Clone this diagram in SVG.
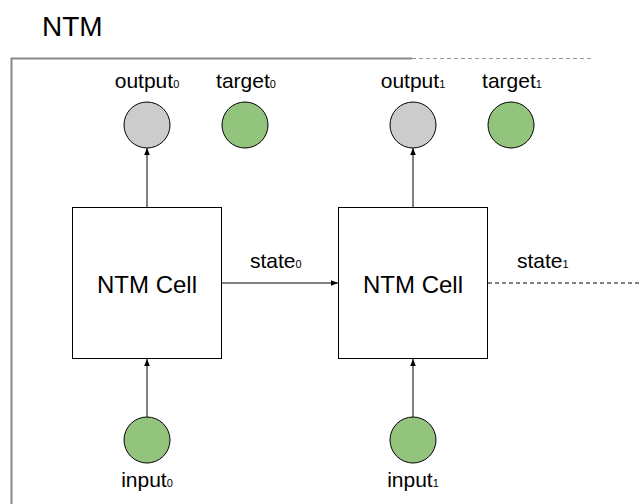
<svg xmlns="http://www.w3.org/2000/svg" width="641" height="504" viewBox="0 0 641 504">
<style>
text{font-family:"Liberation Sans",Arial,sans-serif;fill:#000}
.lbl{font-size:21px}
.sub{font-size:11px}
.cell{fill:#fff;stroke:#000;stroke-width:1}
.gray{fill:#cccccc;stroke:#000;stroke-width:1}
.green{fill:#93c47d;stroke:#000;stroke-width:1}
.edge{stroke:#000;stroke-width:1;fill:none}
</style>
<defs>
<marker id="ah" viewBox="0 0 10 10" refX="10" refY="5" markerWidth="7" markerHeight="7" orient="auto" markerUnits="userSpaceOnUse">
<path d="M0,1 L10,5 L0,9 z" fill="#000"/>
</marker>
</defs>
<rect width="641" height="504" fill="#fff"/>
<g id="frame">
<text x="42" y="36" font-size="28">NTM</text>
<path d="M11.5,504 V58.5 H412" stroke="#888" stroke-width="2" fill="none"/>
<path d="M412,58.5 H592" stroke="#999" stroke-width="1" stroke-dasharray="4,3" fill="none"/>
</g>
<g id="connectors">
<path class="edge" d="M147,207 V148" marker-end="url(#ah)"/>
<path class="edge" d="M413,207 V148" marker-end="url(#ah)"/>
<path class="edge" d="M147,418 V359" marker-end="url(#ah)"/>
<path class="edge" d="M413,418 V359" marker-end="url(#ah)"/>
<path class="edge" d="M222,283 H338" marker-end="url(#ah)"/>
<path class="edge" d="M488,283 H641" stroke-dasharray="4,3"/>
<text class="lbl" x="250" y="268">state<tspan class="sub">0</tspan></text>
<text class="lbl" x="517" y="268">state<tspan class="sub">1</tspan></text>
</g>
<g id="cell0">
<rect class="cell" x="72.5" y="207.5" width="149" height="151"/>
<text x="147" y="293" font-size="24" text-anchor="middle">NTM Cell</text>
</g>
<g id="cell1">
<rect class="cell" x="338.5" y="207.5" width="149" height="151"/>
<text x="413" y="293" font-size="24" text-anchor="middle">NTM Cell</text>
</g>
<g id="output0">
<circle class="gray" cx="147" cy="125" r="23"/>
<text class="lbl" x="147" y="88" text-anchor="middle">output<tspan class="sub">0</tspan></text>
</g>
<g id="target0">
<circle class="green" cx="245" cy="125" r="23"/>
<text class="lbl" x="246" y="88" text-anchor="middle">target<tspan class="sub">0</tspan></text>
</g>
<g id="output1">
<circle class="gray" cx="413" cy="125" r="23"/>
<text class="lbl" x="413" y="88" text-anchor="middle">output<tspan class="sub">1</tspan></text>
</g>
<g id="target1">
<circle class="green" cx="511" cy="125" r="23"/>
<text class="lbl" x="512" y="88" text-anchor="middle">target<tspan class="sub">1</tspan></text>
</g>
<g id="input0">
<circle class="green" cx="147" cy="440" r="23"/>
<text class="lbl" x="147" y="487" text-anchor="middle">input<tspan class="sub">0</tspan></text>
</g>
<g id="input1">
<circle class="green" cx="413" cy="440" r="23"/>
<text class="lbl" x="413" y="487" text-anchor="middle">input<tspan class="sub">1</tspan></text>
</g>
</svg>
